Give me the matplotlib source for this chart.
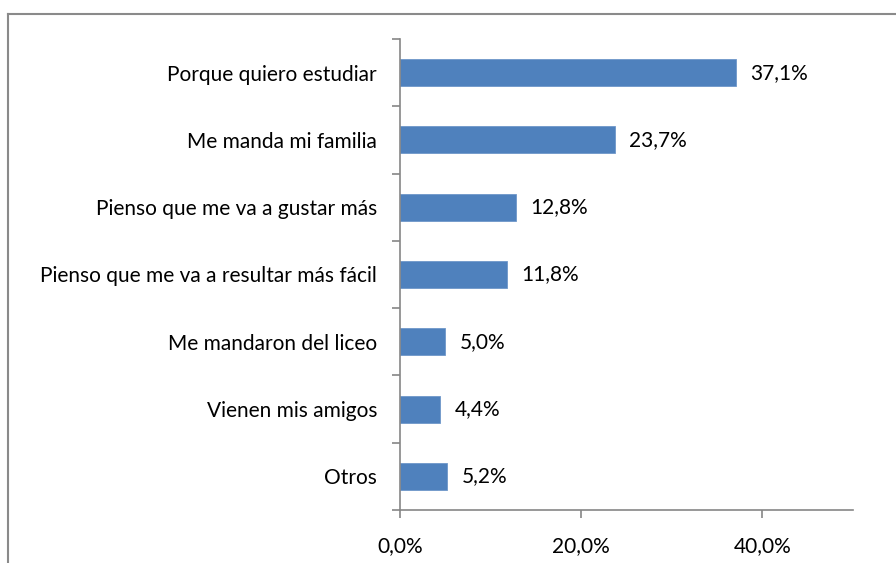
import matplotlib.pyplot as plt
from matplotlib.lines import Line2D

categories = ['Porque quiero estudiar', 'Me manda mi familia', 'Pienso que me va a gustar más',
              'Pienso que me va a resultar más fácil', 'Me mandaron del liceo',
              'Vienen mis amigos', 'Otros']
values = [37.1, 23.7, 12.8, 11.8, 5.0, 4.4, 5.2]
xticks = [0, 20, 40]

plt.rcParams['font.family'] = ['Lato', 'DejaVu Sans']
grey = '#868686'
fs = 15

fig = plt.figure(figsize=(8.96, 5.63), dpi=100)
ax = fig.add_axes([400 / 896, 1 - 510 / 563, 453 / 896, 471 / 563])

n = len(categories)
pos = list(range(n))
ax.barh(pos, values, height=0.4, color='#4F81BD', edgecolor='#6f97c9', linewidth=0.6)
for p, v in zip(pos, values):
    ax.text(v + 1.6, p, f'{v:.1f}%'.replace('.', ','), va='center', ha='left', fontsize=fs)

ax.set_ylim(n - 0.5, -0.5)
ax.set_xlim(0, 50)
ax.set_yticks(pos)
ax.set_yticklabels(categories, fontsize=fs)
ax.set_yticks([i - 0.5 for i in range(n + 1)], minor=True)
ax.tick_params(axis='y', which='major', length=0, pad=16.5)
ax.tick_params(axis='y', which='minor', length=6, color=grey, width=1.2)
ax.set_xticks(xticks)
ax.set_xticklabels([f'{t:.1f}%'.replace('.', ',') for t in xticks], fontsize=fs)
ax.tick_params(axis='x', length=6, color=grey, width=1.2, pad=13)

for s in ['top', 'right']:
    ax.spines[s].set_visible(False)
for s in ['left', 'bottom']:
    ax.spines[s].set_color(grey)
    ax.spines[s].set_linewidth(1.2)

# chart area border (cut off at right and bottom)
fig.add_artist(Line2D([8 / 896, 8 / 896], [0, 1 - 14 / 563], color='#8a8a8a', lw=1.5))
fig.add_artist(Line2D([8 / 896, 1], [1 - 14 / 563, 1 - 14 / 563], color='#8a8a8a', lw=1.5))

fig.savefig('out.png', dpi=100)
